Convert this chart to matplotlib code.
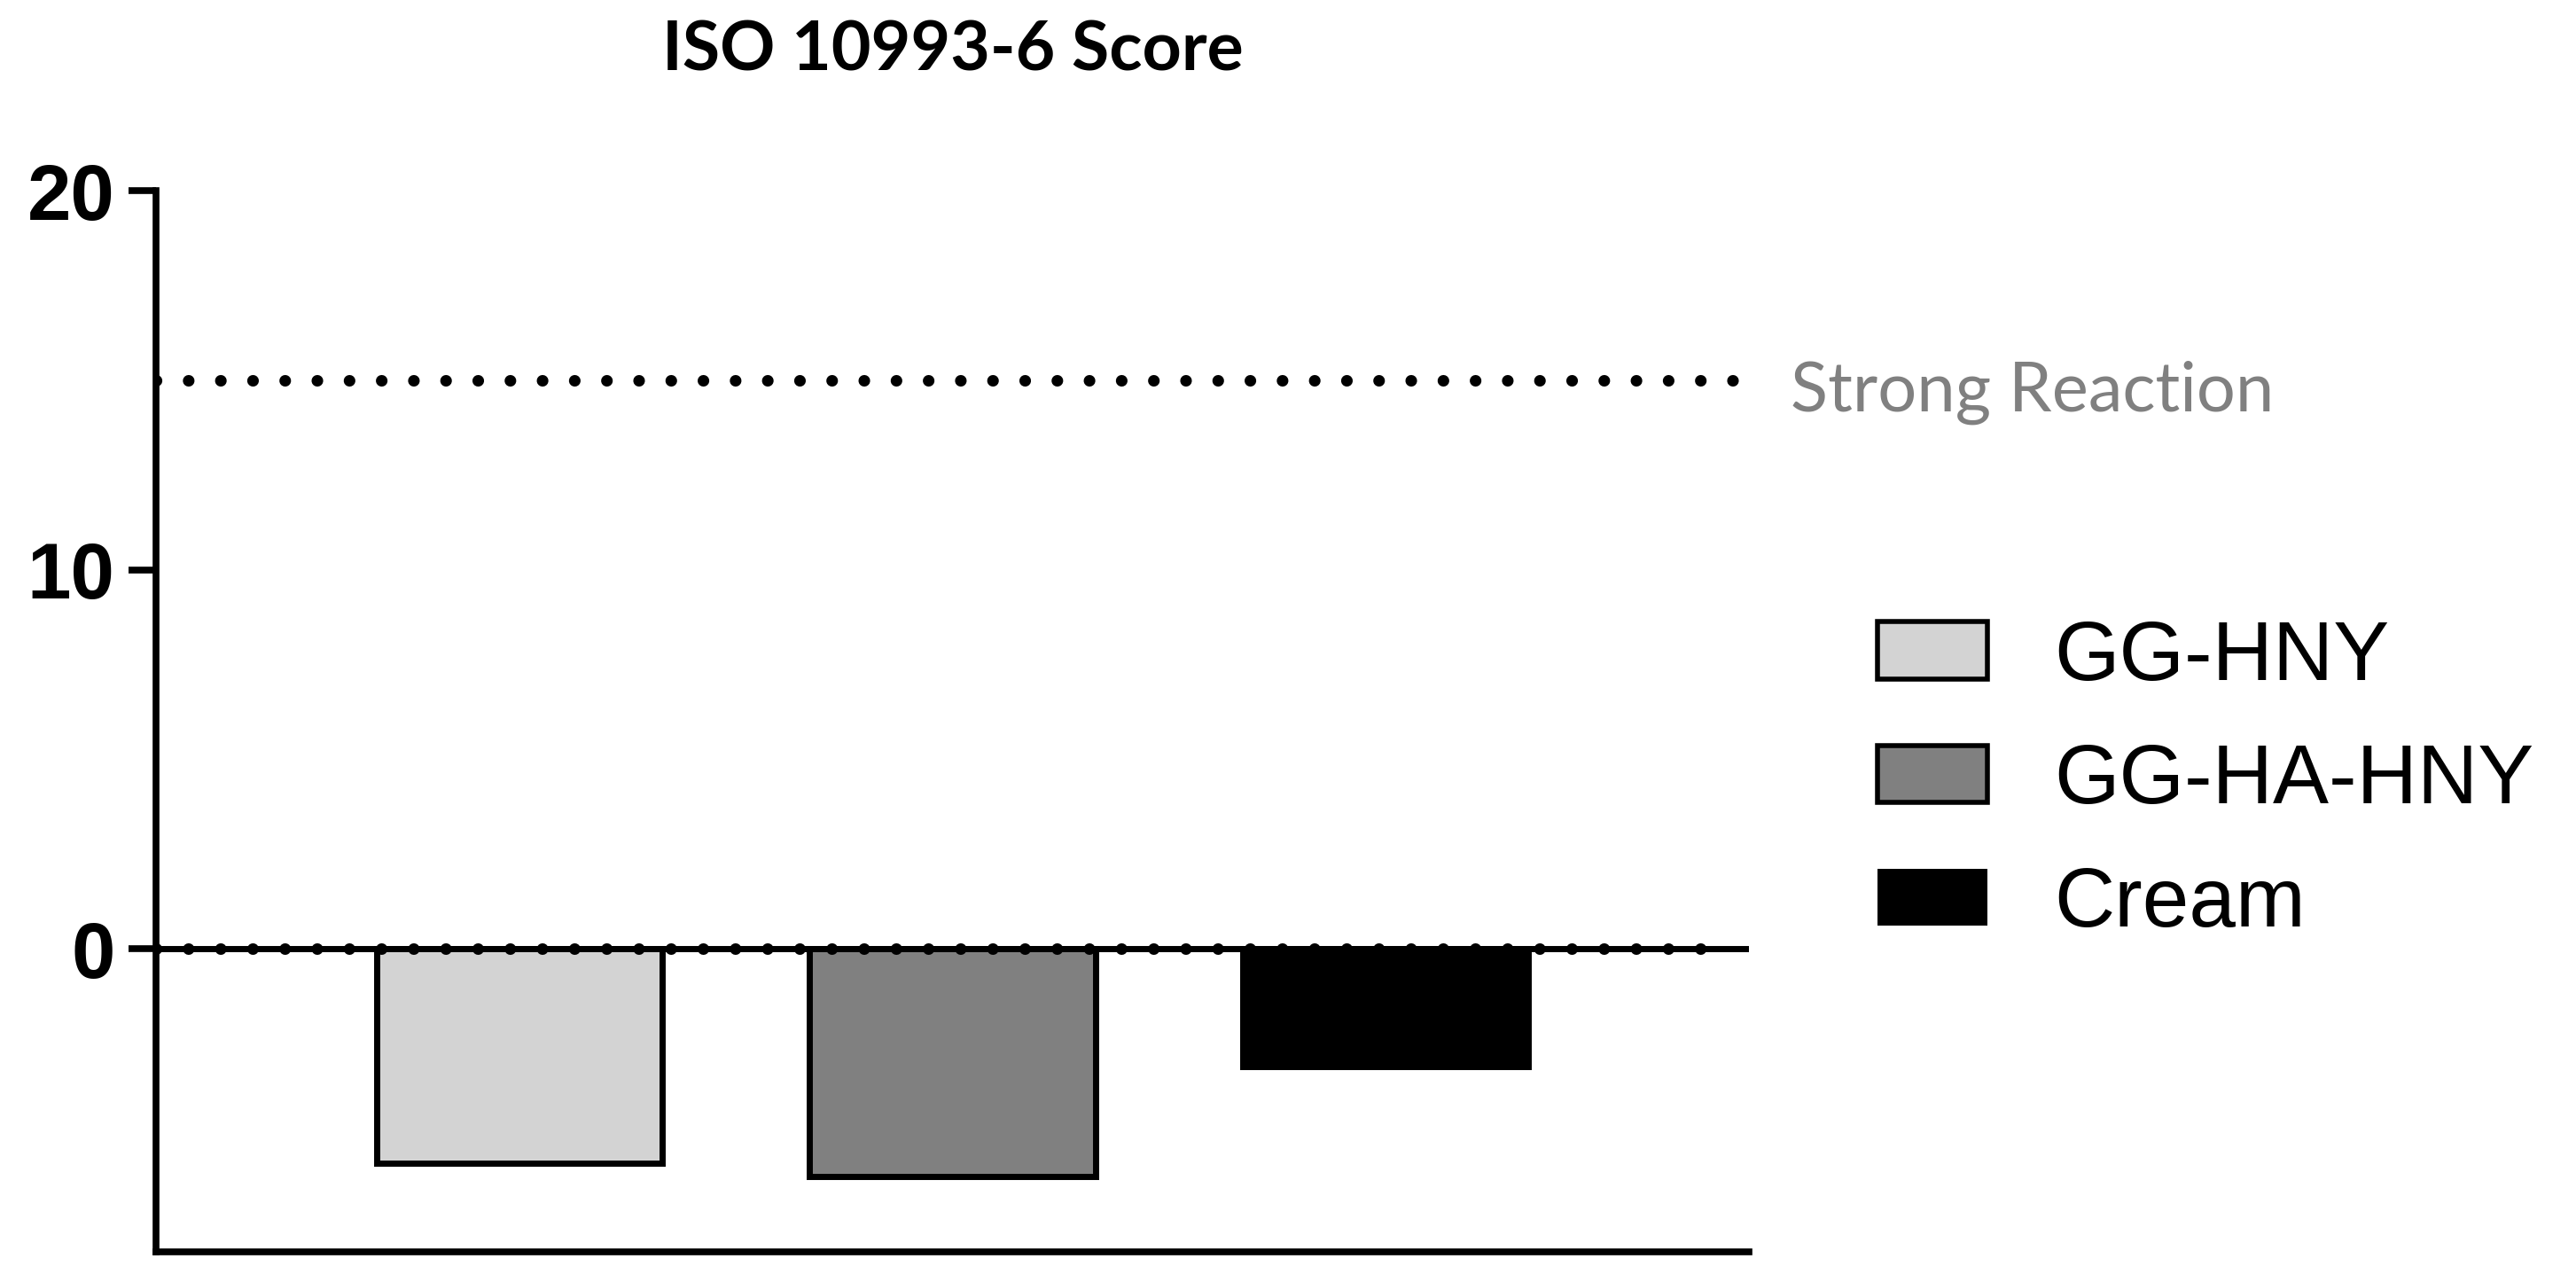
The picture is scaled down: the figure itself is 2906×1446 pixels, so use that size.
import matplotlib
matplotlib.use("Agg")
import matplotlib.pyplot as plt
import matplotlib.patches as patches
from matplotlib import font_manager

# data
groups = ["GG-HNY", "GG-HA-HNY", "Cream"]
scores = [-5.65, -6.02, -3.1]
colors = ["#d3d3d3", "#808080", "#000000"]
strongLevel = 15
yTicks = [0, 10, 20]

names = {f.name for f in font_manager.fontManager.ttflist}
legendFont = "Liberation Sans Narrow" if "Liberation Sans Narrow" in names else "Liberation Sans"

fig = plt.figure(figsize=(29.06, 14.46), dpi=100)
ax = fig.add_axes([0.0606, 0.0235, 0.679 - 0.0606, 0.851 - 0.0235])

xpos = list(range(len(groups)))
ax.bar(xpos, scores, width=0.66, color=colors, edgecolor="black", linewidth=5, zorder=2)

# baseline: solid line with round dots on it, plus the "strong" threshold
dots = (0, (0.01, 2.77))
ax.axhline(0, color="black", linewidth=5, zorder=3)
ax.axhline(0, xmax=0.985, color="black", linewidth=9.4, linestyle=dots,
           dash_capstyle="round", zorder=4)
ax.axhline(strongLevel, xmax=0.99, color="black", linewidth=9.4, linestyle=dots,
           dash_capstyle="round", zorder=4)
ax.text(2.935, 14.2, "Strong Reaction", color="#808080", fontsize=56, family="Lato",
        va="baseline", ha="left", clip_on=False)

ax.set_xlim(-0.84, 2.84)
ax.set_ylim(-8, 20)
ax.set_yticks(yTicks)
ax.set_yticklabels([str(t) for t in yTicks], fontsize=64, fontweight="bold", family="Liberation Sans")
ax.set_xticks([])
for s in ["top", "right"]:
    ax.spines[s].set_visible(False)
ax.spines["left"].set_linewidth(5.5)
ax.spines["bottom"].set_linewidth(5.5)
ax.tick_params(axis="y", length=22, width=5.5, pad=11.5, direction="out")

fig.text(0.3697, 1 - 80 / 1446, "ISO 10993-6 Score", fontsize=55.5, fontweight="bold",
         family="Lato", ha="center", va="baseline")

handles = [patches.Patch(facecolor=c, edgecolor="black", linewidth=4 if c != "#000000" else 0, label=g)
           for c, g in zip(colors, groups)]
fig.legend(handles=handles, loc="upper left", bbox_to_anchor=(2118 / 2906, 1 - 698 / 1446),
           frameon=False, prop={"family": legendFont, "size": 68},
           handlelength=1.31, handleheight=0.68, handletextpad=0.8, labelspacing=0.53,
           borderpad=0, borderaxespad=0)

fig.savefig("out.png", dpi=100)
